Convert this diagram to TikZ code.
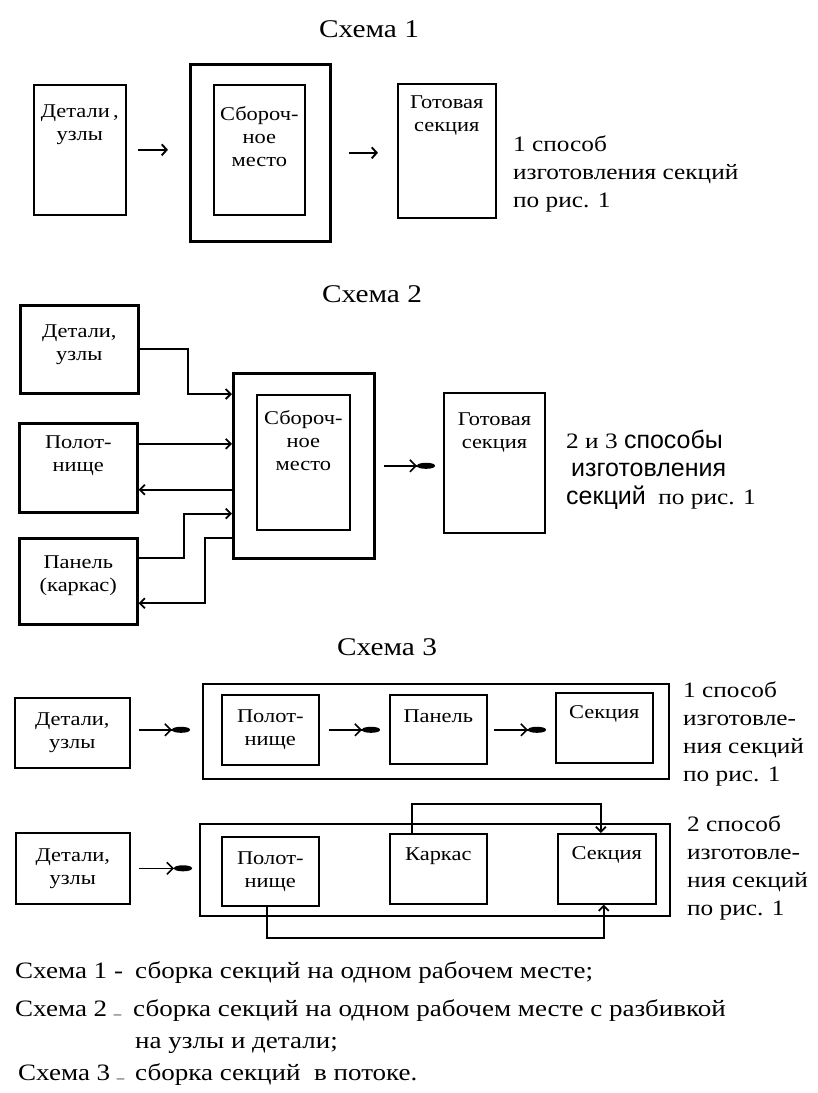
\documentclass[tikz,border=0pt]{standalone}
\usepackage{fontspec}
\setmainfont{Liberation Serif}[FakeStretch=1.15]
\newfontfamily\sansfam{Liberation Sans}
\usetikzlibrary{arrows.meta}

\newcommand{\lowdash}{\raisebox{-2pt}{\fontsize{13}{13}\selectfont –}}

\tikzset{
	box/.style={draw, line width=1.6pt, anchor=north west, inner sep=0pt, align=center, font=\fontsize{19.5}{23}\selectfont},
	outerbox/.style={box, line width=2.6pt},
	lbl/.style={align=center, anchor=north, inner sep=0pt, font=\fontsize{19.5}{23}\selectfont},
	sidetext/.style={align=left, anchor=west, inner sep=0pt, font=\fontsize{22}{28}\selectfont},
	schtitle/.style={anchor=base, inner sep=0pt, font=\fontsize{25.5}{30}\selectfont},
	legendline/.style={anchor=base west, inner sep=0pt, font=\fontsize{23.5}{26}\selectfont},
	arr/.style={line width=1.9pt, -{Straight Barb[length=5pt,width=11pt]}},
	heavy/.style={line width=1.6pt, -{Straight Barb[length=6pt,width=12pt]Ellipse[length=18pt,width=6pt]}},
	conn/.style={line width=1.8pt, -{Straight Barb[length=5pt,width=10pt]}},
}

\begin{document}
\begin{tikzpicture}[x=1pt, y=-1pt]
	\useasboundingbox (0,0) rectangle (818,1093);
	
	\node[schtitle] (t1) at (369,37) {Схема 1};
	\node[box, minimum width=92pt, minimum height=130pt, label={[lbl, yshift=-21pt]north:{Детали\,,\\узлы}}] (d1) at (33,84) {};
	\node[outerbox, minimum width=140pt, minimum height=177pt] (sb1) at (189,63) {};
	\node[box, minimum width=91pt, minimum height=130pt, label={[lbl, yshift=-22pt]north:{Сбороч-\\ное\\место}}] (in1) at (213,84) {};
	\node[box, minimum width=98pt, minimum height=134pt, label={[lbl, yshift=-13pt]north:{Готовая\\секция}}] (g1) at (397,83) {};
	\draw[arr, shorten <=11pt, shorten >=21pt] (d1.east) -- (d1.east -| sb1.west);
	\draw[arr, shorten <=17pt, shorten >=19pt] (sb1.east) -- (sb1.east -| g1.west);
	\node[sidetext] (s1) at (513,174) {1 способ\\изготовления секций\\по рис. 1};
	
	\node[schtitle] (t2) at (372,302) {Схема 2};
	\node[outerbox, minimum width=118pt, minimum height=88pt, label={[lbl, yshift=-21pt]north:{Детали,\\узлы}}] (d2) at (19,304) {};
	\node[outerbox, minimum width=118pt, minimum height=89pt, label={[lbl, yshift=-14pt]north:{Полот-\\нище}}] (p2) at (18,422) {};
	\node[outerbox, minimum width=118pt, minimum height=86pt, label={[lbl, yshift=-19pt]north:{Панель\\(каркас)}}] (k2) at (18,537) {};
	\node[outerbox, minimum width=141pt, minimum height=185pt] (sb2) at (232,372) {};
	\node[box, minimum width=93pt, minimum height=135pt, label={[lbl, yshift=-16pt]north:{Сбороч-\\ное\\место}}] (in2) at (256,394) {};
	\node[box, line width=2pt, minimum width=101pt, minimum height=140pt, label={[lbl, yshift=-21pt]north:{Готовая\\секция}}] (g2) at (443,392) {};
	\draw[conn] (d2.east) -- ++(48,0) |- (in2.north -| sb2.west);
	\draw[conn] ([yshift=24pt]p2.east) -- ([yshift=24pt]p2.east -| sb2.west);
	\draw[conn] ([yshift=-22pt]p2.east -| sb2.west) -- ([yshift=-22pt]p2.east);
	\draw[conn] ([yshift=23pt]k2.east) -- ++(45,0) |- (p2.south -| sb2.west);
	\draw[conn] ([yshift=22pt]sb2.south west) -- ++(-27,0) |- ([yshift=-22pt]k2.east);
	\draw[heavy, shorten <=8pt, shorten >=8pt] (sb2.east) -- (sb2.east -| g2.west);
	\node[sidetext] (s2) at (566,470) {2 и 3 {\sansfam\fontsize{25}{28}\selectfont способы}\\\hspace{5pt}{\sansfam\fontsize{25}{28}\selectfont изготовления}\\{\sansfam\fontsize{25}{28}\selectfont секций}\ \ по рис. 1};
	
	\node[schtitle] (t3) at (387,655) {Схема 3};
	\node[box, minimum width=115pt, minimum height=70pt] (d3) at (14,697) {Детали,\\узлы};
	\node[outerbox, line width=2.4pt, minimum width=466pt, minimum height=95pt] (o3) at (202,683) {};
	\node[box, minimum width=97pt, minimum height=70pt] (p3) at (221,694) {Полот-\\нище};
	\node[box, minimum width=97pt, minimum height=69pt, label={[lbl, yshift=-16pt]north:{Панель}}] (pan3) at (389,694) {};
	\node[box, minimum width=97pt, minimum height=70pt, label={[lbl, yshift=-13pt]north:{Секция}}] (s3) at (555,692) {};
	\draw[heavy, shorten <=8pt, shorten >=12pt] (p3.west -| d3.east) -- (p3.west -| o3.west);
	\draw[heavy, shorten <=9pt, shorten >=9pt] (p3.east) -- (p3.east -| pan3.west);
	\draw[heavy, shorten <=6pt, shorten >=9pt] (p3.east -| pan3.east) -- (p3.east -| s3.west);
	\node[sidetext] (s5) at (683,734) {1 способ\\изготовле-\\ния секций\\по рис. 1};
	
	\node[box, minimum width=114pt, minimum height=71pt] (d4) at (15,832) {Детали,\\узлы};
	\node[outerbox, line width=2.4pt, minimum width=470pt, minimum height=92pt] (o4) at (199,823) {};
	\node[box, minimum width=97pt, minimum height=69pt] (p4) at (221,836) {Полот-\\нище};
	\node[box, minimum width=97pt, minimum height=70pt, label={[lbl, yshift=-15pt]north:{Каркас}}] (k4) at (389,833) {};
	\node[box, minimum width=98pt, minimum height=70pt, label={[lbl, yshift=-13pt]north:{Секция}}] (s4) at (557,833) {};
	\draw[heavy, shorten <=8pt, shorten >=7pt] (d4.east) -- (d4.east -| o4.west);
	\draw[conn] ([xshift=23pt]k4.north west) -- ++(0,-29) -| ([xshift=-6pt]s4.north);
	\draw[conn] ([xshift=-3pt]p4.south) -- ++(0,31) -| ([xshift=-3pt]s4.south);
	\node[sidetext] (s6) at (687,868) {2 способ\\изготовле-\\ния секций\\по рис. 1};
	
	\node[legendline] (l1) at (15,978) {\makebox[120pt][l]{Схема 1 -}сборка секций на одном рабочем месте;};
	\node[legendline] (l2) at (15,1016) {\makebox[118pt][l]{Схема 2 \lowdash}сборка секций на одном рабочем месте с разбивкой};
	\node[legendline] (l3) at (135,1048) {на узлы и детали;};
	\node[legendline] (l4) at (18,1080) {\makebox[117pt][l]{Схема 3 \lowdash}сборка секций\ \ в потоке.};
\end{tikzpicture}
\end{document}
